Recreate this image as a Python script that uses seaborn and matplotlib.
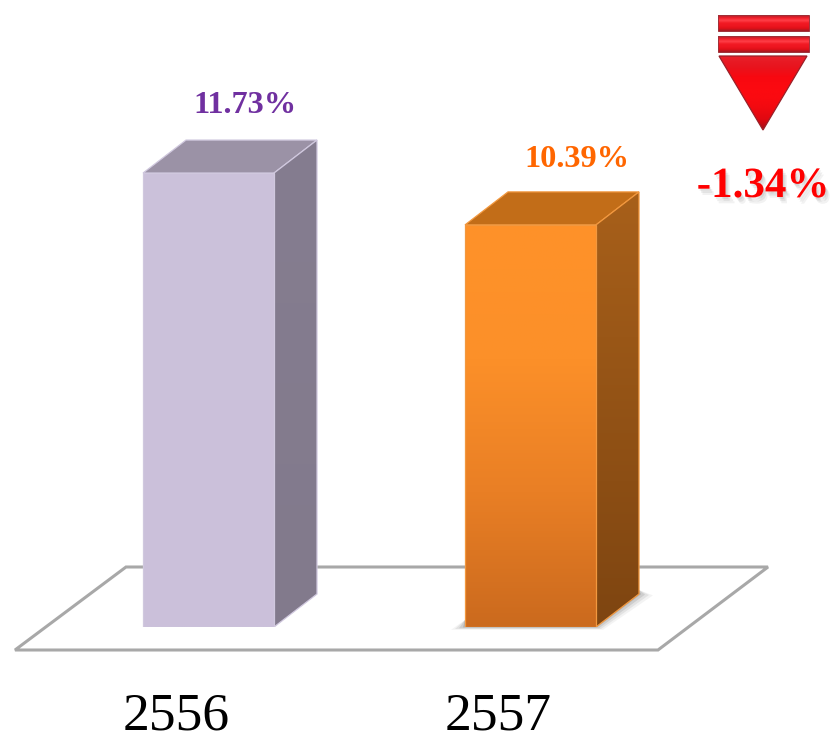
import matplotlib
matplotlib.use("Agg")
import numpy as np
import pandas as pd
import seaborn as sns
import matplotlib.pyplot as plt
import matplotlib.patheffects as pe
from matplotlib.colors import LinearSegmentedColormap as LSC
from matplotlib.patches import Polygon, Rectangle
from matplotlib.transforms import Affine2D

years = ["2556", "2557"]
rates = [11.73, 10.39]
value_labels = ["11.73%", "10.39%"]
change_label = "-1.34%"
text_colors = ["#7030A0", "#FF6600"]

W, H = 831, 737
BASE = 627
PX_X = 322.0
PX_Y = 38.7
DX, DY = 43 / PX_X, 33 / PX_Y

sns.set_theme(style="white")
plt.rcParams["font.family"] = ["Liberation Serif", "DejaVu Serif"]

fig = plt.figure(figsize=(W / 100, H / 100), dpi=100, facecolor="white")

# Pixel-space backdrop: floor and arrow badge
bg = fig.add_axes([0, 0, 1, 1], zorder=0)
bg.set_xlim(0, W)
bg.set_ylim(H, 0)
bg.axis("off")

floor = Polygon([(15, 650), (126, 567), (768, 567), (658, 650)], closed=True,
                facecolor="white", edgecolor="#A8A8A8", lw=2.2, joinstyle="miter")
bg.add_patch(floor)

# soft shadow under the orange bar
for grow, a in zip([7, 5, 3, 1], [0.06, 0.09, 0.13, 0.18]):
    bg.add_patch(Polygon([(465 - 2 * grow, BASE + 0.4 * grow), (596 + grow, BASE + 0.4 * grow),
                          (639 + 2 * grow, 594 + 0.2 * grow), (639, 590), (596, 620), (465, 620)],
                         closed=True, facecolor="#404040", edgecolor="none", alpha=a))


def grad(ax, extent, clip, cols, z=3):
    cmap = LSC.from_list("g", cols)
    im = ax.imshow(np.linspace(0, 1, 256)[:, None], extent=extent, cmap=cmap, vmin=0, vmax=1,
                   aspect="auto", origin="upper" if ax is bg else "lower",
                   zorder=z, interpolation="bilinear")
    im.set_clip_path(clip)
    return im


badge_cols = ["#A02830", "#EE1C28", "#FF4048", "#F21A24", "#EE1620", "#E01018", "#9C1C24"]
for y0, y1 in [(15, 31), (36, 52)]:
    r = Rectangle((718, y0), 91, y1 - y0, facecolor="none", edgecolor="none", transform=bg.transData)
    bg.add_patch(r)
    grad(bg, (718, 809, y1, y0), r, badge_cols)
    bg.add_patch(Rectangle((718, y0), 91, y1 - y0, facecolor="none", edgecolor="#A03038", lw=0.7, zorder=4))

tri = Polygon([(719, 56), (807, 56), (763, 130)], closed=True, facecolor="none", edgecolor="none")
bg.add_patch(tri)
grad(bg, (719, 807, 130, 56), tri,
     ["#E8202A", "#E8141E", "#F80810", "#FC0A10", "#FA0A10", "#F00A10", "#E00810", "#A01018"])
bg.add_patch(Polygon([(719, 56), (807, 56), (763, 130)], closed=True, facecolor="none",
                     edgecolor="#9A2028", lw=0.9, zorder=4))

bg.text(763, 187, change_label, color="#FF0000", fontsize=31, fontweight="bold",
        ha="center", va="center", zorder=5,
        path_effects=[pe.SimplePatchShadow(offset=(1, -1.5), shadow_rgbFace="#808080", alpha=0.14),
                      pe.SimplePatchShadow(offset=(2, -3), shadow_rgbFace="#808080", alpha=0.14),
                      pe.SimplePatchShadow(offset=(3, -4.5), shadow_rgbFace="#808080", alpha=0.10),
                      pe.Normal()])

# Main chart
ax = fig.add_axes([0, (H - BASE) / H, 1, BASE / H], zorder=1)
ax.patch.set_alpha(0)
df = pd.DataFrame({"year": years, "rate": rates})
sns.barplot(data=df, x="year", y="rate", hue="year", order=years, hue_order=years,
            palette=["#CCC1DA", "#F58A28"], width=131 / PX_X, legend=False, ax=ax, zorder=2,
            linewidth=0)

styles = [
    dict(front=["#CCC2DB", "#CBC0DA"], side=["#857D90", "#827A8C"], top="#9B92A6", edge="#D0C8DE"),
    dict(front=["#FF9229", "#FC9029", "#E97F25", "#CB6A1E"], side=["#A8601A", "#7E4511"],
         top="#C26D18", edge="#F2983F"),
]

x_left = -208.5 / PX_X
x_right = x_left + W / PX_X
y_top = BASE / PX_Y

for bar, st, val, lab, col in zip(ax.patches, styles, rates, value_labels, text_colors):
    x0, w, h = bar.get_x(), bar.get_width(), bar.get_height()
    x1 = x0 + w
    # top face
    ax.add_patch(Polygon([(x0, h), (x0 + DX, h + DY), (x1 + DX, h + DY), (x1, h)], closed=True,
                         facecolor=st["top"], edgecolor=st["edge"], lw=0.9, zorder=2))
    # side face
    side_pts = [(x1, 0), (x1 + DX, DY), (x1 + DX, h + DY), (x1, h)]
    side = Polygon(side_pts, closed=True, facecolor="none", edgecolor="none", zorder=2)
    ax.add_patch(side)
    grad(ax, (x1, x1 + DX, h + DY, 0), side, st["side"])
    ax.add_patch(Polygon(side_pts, closed=True, facecolor="none", edgecolor=st["edge"], lw=0.9, zorder=4))
    # front face
    bar.set_zorder(3)
    grad(ax, (x0, x1, h, 0), bar, st["front"], z=4)
    ax.add_patch(Rectangle((x0, 0), w, h, facecolor="none", edgecolor=st["edge"], lw=0.9, zorder=5))

for i, (val, lab, col, off) in enumerate(zip(rates, value_labels, text_colors, [(36.5, 68), (46.5, 65)])):
    ax.annotate(lab, xy=(i, val), xytext=(off[0] * 0.72, off[1] * 0.72), textcoords="offset points",
                ha="center", va="center", color=col, fontsize=23.3, fontweight="bold", zorder=6)

ax.set_xlim(x_left, x_right)
ax.set_ylim(0, y_top)
ax.set_xlabel("")
ax.set_ylabel("")
ax.set_yticks([])
sns.despine(ax=ax, left=True, bottom=True)
ax.tick_params(axis="x", length=0, pad=47, labelsize=38.5, colors="black")
for t in ax.get_xticklabels():
    t.set_fontweight("normal")
    t.set_transform(t.get_transform() + Affine2D().translate(-32.5, 0))
ax.grid(False)

fig.savefig("out.png", dpi=100, facecolor="white")
